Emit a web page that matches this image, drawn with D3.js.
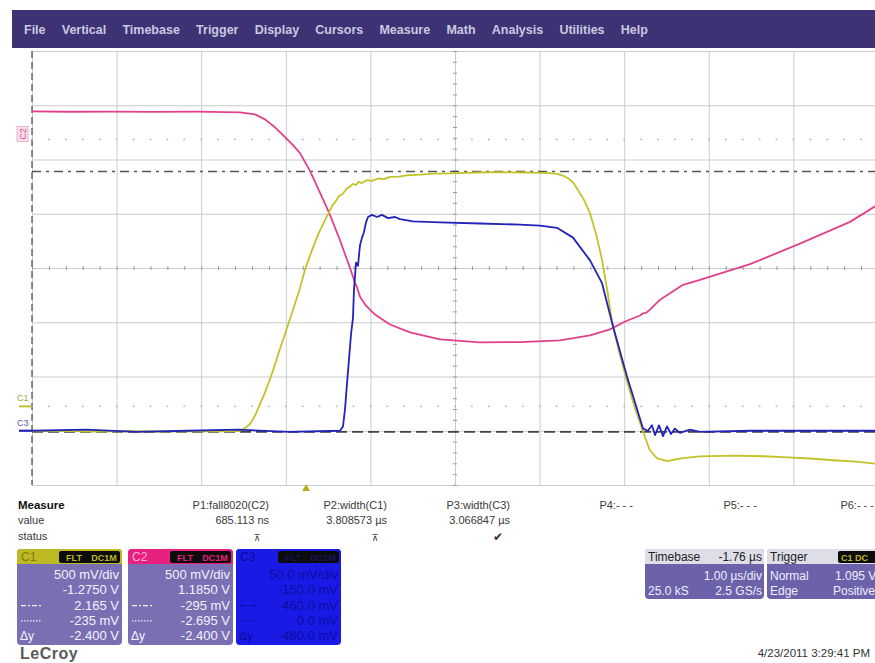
<!DOCTYPE html>
<html>
<head>
<meta charset="utf-8">
<script src="https://cdn.jsdelivr.net/npm/d3@7"></script>
<style>
  body { margin: 0; background: #fff; }
  svg { display: block; font-family: "Liberation Sans", Arial, sans-serif; }
</style>
</head>
<body>
<svg id="scope" width="875" height="663"></svg>
<script>
// ---- acquisition settings ----
const menuLabels = ["File", "Vertical", "Timebase", "Trigger", "Display", "Cursors", "Measure", "Math", "Analysis", "Utilities", "Help"];
const timePerDiv = 1.0;          // µs/div
const triggerDelay = -1.76;      // µs
const channelNames = ["C1", "C2", "C3"];
const voltsPerDiv = [0.5, 0.5, 0.05];
const channelOffsets = [-1.275, 1.185, -0.15];
const channelColors = ["#c4c22a", "#e2408c", "#2323b8"];
const cursorLevelsC1 = [2.165, -0.235];   // V, on C1

// ---- traces: [time µs, volts] ----
const traceC1 = [
  [-3.24,-0.23],[-2.9,-0.227],[-2.5,-0.233],[-2.1,-0.228],[-1.7,-0.232],[-1.3,-0.228],[-1.0,-0.231],[-0.85,-0.229],
  [-0.78,-0.225],[-0.72,-0.20],[-0.66,-0.16],[-0.60,-0.08],[-0.545,0.02],[-0.49,0.12],[-0.427,0.25],[-0.37,0.38],
  [-0.309,0.53],[-0.23,0.71],[-0.155,0.89],[-0.08,1.07],[-0.013,1.26],[0.07,1.44],[0.14,1.58],[0.20,1.68],
  [0.271,1.79],[0.31,1.85],[0.35,1.89],[0.39,1.94],[0.43,1.955],[0.483,2.01],[0.52,2.025],[0.55,2.05],
  [0.59,2.04],[0.62,2.07],[0.66,2.058],[0.72,2.085],[0.78,2.078],[0.85,2.10],[0.92,2.094],[0.99,2.115],
  [1.1,2.118],[1.2,2.13],[1.35,2.136],[1.5,2.145],[1.7,2.148],[2.0,2.155],[2.3,2.158],[2.6,2.155],
  [2.77,2.152],[2.88,2.15],[2.97,2.143],[3.04,2.125],[3.1,2.10],[3.16,2.06],[3.2,2.01],[3.28,1.91],
  [3.356,1.78],[3.43,1.58],[3.498,1.35],[3.56,1.07],[3.616,0.78],[3.70,0.50],[3.793,0.23],[3.88,0.0],
  [3.982,-0.23],[4.06,-0.40],[4.148,-0.48],[4.27,-0.505],[4.36,-0.49],[4.455,-0.478],[4.656,-0.462],
  [5.046,-0.455],[5.4,-0.46],[5.637,-0.469],[6.0,-0.483],[6.228,-0.497],[6.5,-0.51],[6.76,-0.53]
];
const traceC2 = [
  [-3.24,0.258],[-2.8,0.255],[-2.3,0.257],[-1.8,0.254],[-1.3,0.256],[-0.95,0.252],[-0.781,0.249],[-0.604,0.231],
  [-0.486,0.185],[-0.368,0.112],[-0.249,0.021],[-0.155,-0.053],[-0.072,-0.126],[0.046,-0.29],[0.164,-0.491],
  [0.271,-0.674],[0.401,-0.929],[0.519,-1.185],[0.56,-1.28],[0.578,-1.322],[0.60,-1.36],[0.637,-1.45],
  [0.708,-1.532],[0.814,-1.614],[0.992,-1.706],[1.228,-1.779],[1.583,-1.843],[2.056,-1.870],[2.528,-1.868],
  [3.001,-1.852],[3.356,-1.806],[3.592,-1.751],[3.77,-1.678],[3.947,-1.623],[3.99,-1.60],[4.02,-1.598],
  [4.065,-1.569],[4.184,-1.477],[4.455,-1.340],[4.656,-1.295],[5.247,-1.15],[5.837,-0.96],[6.429,-0.76],[6.76,-0.60]
];
const traceC3 = [
  [-3.24,0.0],[-2.6,0.001],[-2.0,-0.001],[-1.4,0.0],[-0.8,0.001],[-0.2,-0.001],[0.401,0.0],[0.436,0.004],
  [0.46,0.02],[0.483,0.043],[0.507,0.066],[0.531,0.089],[0.554,0.104],[0.566,0.13],[0.59,0.155],[0.613,0.152],
  [0.637,0.171],[0.661,0.178],[0.684,0.183],[0.708,0.192],[0.732,0.197],[0.779,0.199],[0.838,0.197],[0.897,0.199],
  [0.968,0.196],[1.051,0.197],[1.11,0.195],[1.263,0.193],[1.583,0.192],[2.056,0.191],[2.528,0.19],[2.765,0.189],
  [2.966,0.187],[3.155,0.178],[3.356,0.157],[3.498,0.136],[3.628,0.096],[3.793,0.05],[3.982,0.002],[4.041,0.0],
  [4.088,0.005],[4.124,-0.004],[4.171,0.005],[4.219,-0.005],[4.266,0.004],[4.313,-0.003],[4.36,0.002],
  [4.419,-0.002],[4.537,0.001],[4.656,-0.001],[5.247,0.0],[5.837,0.0],[6.76,0.0]
];

// ---- measurement and info panels ----
const measureNames = ["P1:fall8020(C2)", "P2:width(C1)", "P3:width(C3)", "P4:- - -", "P5:- - -", "P6:- - -"];
const measureValues = ["685.113 ns", "3.808573 µs", "3.066847 µs", "", "", ""];
const measureStatus = ["⊼", "⊼", "✔", "", "", ""];
const channelRows = [
  ["500 mV/div", "-1.2750 V", "2.165 V", "-235 mV", "-2.400 V"],
  ["500 mV/div", "1.1850 V", "-295 mV", "-2.695 V", "-2.400 V"],
  ["50.0 mV/div", "-150.0 mV", "-460.0 mV", "0.0 mV", "-460.0 mV"]
];
const timebaseRows = ["-1.76 µs", "1.00 µs/div", "25.0 kS", "2.5 GS/s"];
const triggerRows = ["C1 DC", "Normal", "1.095 V", "Edge", "Positive"];
const timestamp = "4/23/2011 3:29:41 PM";

// ---- layout ----
const svg = d3.select("#scope");
const gx0 = 32, gx1 = 878, gy0 = 51, gy1 = 485;
const timeStart = -5 * timePerDiv - triggerDelay;
const x = d3.scaleLinear().domain([timeStart, timeStart + 10 * timePerDiv]).range([gx0, gx1]);
const yDiv = d3.scaleLinear().domain([-4, 4]).range([gy1, gy0]);
const chanY = channelNames.map((_, i) =>
  d3.scaleLinear().domain([-4 * voltsPerDiv[i] - channelOffsets[i], 4 * voltsPerDiv[i] - channelOffsets[i]]).range([gy1, gy0]));

svg.append("rect").attr("width", 875).attr("height", 663).attr("fill", "#fff");

// menu bar
svg.append("rect").attr("x", 12).attr("y", 10).attr("width", 870).attr("height", 38).attr("fill", "#3d3273");
let mx = 24;
menuLabels.forEach(m => {
  const t = svg.append("text").attr("x", mx).attr("y", 34).attr("fill", "#c9c9e2")
    .attr("font-size", 12.5).attr("font-weight", "bold").text(m);
  mx += t.node().getComputedTextLength() + 16.2;
});

// grid
const divTimes = d3.range(11).map(i => timeStart + i * timePerDiv);
const gridX = d3.axisBottom(x).tickValues(divTimes).tickSize(gy1 - gy0).tickFormat("");
svg.append("g").attr("transform", `translate(0,${gy0})`).call(gridX)
  .call(g => g.select(".domain").remove())
  .call(g => g.selectAll("line").attr("stroke", "#cbcbcb"));
const gridY = d3.axisRight(yDiv).tickValues(d3.range(-4, 5)).tickSize(gx1 - gx0).tickFormat("");
svg.append("g").attr("transform", `translate(${gx0},0)`).call(gridY)
  .call(g => g.select(".domain").remove())
  .call(g => g.selectAll("line").attr("stroke", "#cbcbcb"));

// minor ticks on centre lines
const minorTimes = d3.range(51).map(i => timeStart + i * timePerDiv / 5);
const minorDivs = d3.range(41).map(i => -4 + i / 5);
svg.append("g").attr("transform", `translate(0,${yDiv(0) - 2})`)
  .call(d3.axisBottom(x).tickValues(minorTimes).tickSize(4).tickFormat(""))
  .call(g => g.select(".domain").remove())
  .call(g => g.selectAll("line").attr("stroke", "#9a9a9a"));
svg.append("g").attr("transform", `translate(${x(timeStart + 5 * timePerDiv) - 2},0)`)
  .call(d3.axisRight(yDiv).tickValues(minorDivs).tickSize(4).tickFormat(""))
  .call(g => g.select(".domain").remove())
  .call(g => g.selectAll("line").attr("stroke", "#9a9a9a"));
// left edge
svg.append("line").attr("x1", gx0).attr("x2", gx0).attr("y1", gy0).attr("y2", gy1)
  .attr("stroke", "#555").attr("stroke-width", 1.3).attr("stroke-dasharray", "7,4");

// channel ground-level dotted rows (C1, C2)
[1, 0].forEach(i => {
  const yy = chanY[i](0);
  svg.append("g").selectAll("rect").data(minorTimes).join("rect")
    .attr("x", d => x(d) - 0.8).attr("y", yy - 0.8).attr("width", 1.6).attr("height", 1.6)
    .attr("fill", "#b5b5b5");
});

// cursors
svg.append("line").attr("x1", gx0).attr("x2", gx1)
  .attr("y1", chanY[0](cursorLevelsC1[0])).attr("y2", chanY[0](cursorLevelsC1[0]))
  .attr("stroke", "#555").attr("stroke-width", 1.6).attr("stroke-dasharray", "9,5,3,5");
svg.append("line").attr("x1", gx0).attr("x2", gx1)
  .attr("y1", chanY[0](cursorLevelsC1[1])).attr("y2", chanY[0](cursorLevelsC1[1]))
  .attr("stroke", "#444").attr("stroke-width", 1.6).attr("stroke-dasharray", "11,5");

// traces
svg.append("clipPath").attr("id", "gridClip").append("rect")
  .attr("x", gx0).attr("y", gy0).attr("width", gx1 - gx0).attr("height", gy1 - gy0);
const plot = svg.append("g").attr("clip-path", "url(#gridClip)");
[traceC2, traceC1, traceC3].forEach((tr, k) => {
  const i = [1, 0, 2][k];
  const line = d3.line().x(d => x(d[0])).y(d => chanY[i](d[1]));
  plot.append("path").datum(tr).attr("d", line).attr("fill", "none")
    .attr("stroke", channelColors[i]).attr("stroke-width", 1.8).attr("stroke-linejoin", "round");
});

// channel markers on left
const yC2 = chanY[1](0);
svg.append("g").attr("transform", `translate(23,${yC2 - 7}) rotate(-90)`)
  .call(g => g.append("rect").attr("x", -9).attr("y", -6).attr("width", 15).attr("height", 11)
    .attr("fill", "#fbe3ee").attr("stroke", "#e8a0c0").attr("stroke-width", 0.8))
  .call(g => g.append("text").attr("x", -1.5).attr("y", 3).attr("text-anchor", "middle")
    .attr("font-size", 9).attr("fill", channelColors[1]).text(channelNames[1]));
const yC1 = chanY[0](0);
svg.append("text").attr("x", 17).attr("y", yC1 - 5).attr("font-size", 9).attr("fill", "#a8a640").text(channelNames[0]);
svg.append("line").attr("x1", 19).attr("x2", 31).attr("y1", yC1).attr("y2", yC1).attr("stroke", channelColors[0]).attr("stroke-width", 2);
const yC3 = chanY[2](0);
svg.append("text").attr("x", 17).attr("y", yC3 - 5).attr("font-size", 9).attr("fill", "#5858c8").text(channelNames[2]);
svg.append("line").attr("x1", 19).attr("x2", gx0).attr("y1", yC3).attr("y2", yC3).attr("stroke", channelColors[2]).attr("stroke-width", 2.2);

// trigger position marker
const tx = x(0);
svg.append("path").attr("d", `M${tx - 4},${gy1 + 6} L${tx + 4},${gy1 + 6} L${tx},${gy1 - 1} Z`).attr("fill", "#b8b020");

// measurement table
const tcol = "#3a3a3a";
svg.append("text").attr("x", 18).attr("y", 509).attr("font-size", 11.5).attr("font-weight", "bold").attr("fill", "#111").text("Measure");
svg.append("text").attr("x", 18).attr("y", 524).attr("font-size", 11).attr("fill", tcol).text("value");
svg.append("text").attr("x", 18).attr("y", 540).attr("font-size", 11).attr("fill", tcol).text("status");
const colRight = [269, 387, 510, 633, 757, 874];
measureNames.forEach((n, i) => {
  svg.append("text").attr("x", colRight[i]).attr("y", 509).attr("text-anchor", "end").attr("font-size", 11).attr("fill", tcol).text(n);
  if (measureValues[i]) svg.append("text").attr("x", colRight[i]).attr("y", 524).attr("text-anchor", "end").attr("font-size", 11).attr("fill", tcol).text(measureValues[i]);
  if (measureStatus[i]) svg.append("text").attr("x", colRight[i] - 12).attr("y", 541).attr("text-anchor", "middle")
    .attr("font-size", measureStatus[i] === "✔" ? 12 : 9).attr("fill", "#333").attr("font-family", "DejaVu Sans").text(measureStatus[i]);
});

// channel info boxes
const boxX = [17, 128, 236];
const headerColors = ["#bdb923", "#e8207f", "#1a1ae6"];
const headerText = ["#7d7a12", "#f7b0d0", "#0b0b9c"];
const bodyColors = ["#7a6fb3", "#7a6fb3", "#1a1ae6"];
const bodyText = ["#f2f2ff", "#f2f2ff", "#0c0c9e"];
channelNames.forEach((c, i) => {
  const bx = boxX[i], bw = 105, by = 549, bh = 96;
  const g = svg.append("g");
  g.append("rect").attr("x", bx).attr("y", by).attr("width", bw).attr("height", bh).attr("rx", 4).attr("fill", bodyColors[i]);
  g.append("path").attr("d", `M${bx},${by + 15} V${by + 4} Q${bx},${by} ${bx + 4},${by} H${bx + bw - 4} Q${bx + bw},${by} ${bx + bw},${by + 4} V${by + 15} Z`).attr("fill", headerColors[i]);
  g.append("text").attr("x", bx + 4).attr("y", by + 12).attr("font-size", 12).attr("fill", headerText[i]).text(c);
  g.append("rect").attr("x", bx + bw - 63).attr("y", by + 2).attr("width", 61).attr("height", 12).attr("rx", 2).attr("fill", "#0c0c0c");
  g.append("text").attr("x", bx + bw - 48).attr("y", by + 11.5).attr("text-anchor", "middle").attr("font-size", 9)
    .attr("font-weight", "bold").attr("fill", i === 2 ? "#151560" : headerColors[i]).text("FLT");
  g.append("text").attr("x", bx + bw - 18).attr("y", by + 11.5).attr("text-anchor", "middle").attr("font-size", 9)
    .attr("font-weight", "bold").attr("fill", i === 2 ? "#151560" : headerColors[i]).text("DC1M");
  channelRows[i].forEach((r, j) => {
    g.append("text").attr("x", bx + bw - 3).attr("y", by + 30 + j * 15.3).attr("text-anchor", "end")
      .attr("font-size", 13).attr("fill", bodyText[i]).text(r);
  });
  const ly = [by + 30 + 2 * 15.3 - 4, by + 30 + 3 * 15.3 - 4];
  g.append("line").attr("x1", bx + 4).attr("x2", bx + 24).attr("y1", ly[0]).attr("y2", ly[0])
    .attr("stroke", bodyText[i]).attr("stroke-width", 1.2).attr("stroke-dasharray", "5,2,2,2");
  g.append("line").attr("x1", bx + 4).attr("x2", bx + 24).attr("y1", ly[1]).attr("y2", ly[1])
    .attr("stroke", bodyText[i]).attr("stroke-width", 1.2).attr("stroke-dasharray", "1.5,1.5");
  g.append("text").attr("x", bx + 3).attr("y", by + 30 + 4 * 15.3).attr("font-size", 12).attr("fill", bodyText[i]).text("Δy");
});

// timebase box
{
  const bx = 645, bw = 119, by = 549, bh = 50;
  svg.append("rect").attr("x", bx).attr("y", by).attr("width", bw).attr("height", bh).attr("rx", 4).attr("fill", "#6c62aa");
  svg.append("path").attr("d", `M${bx},${by + 15} V${by + 4} Q${bx},${by} ${bx + 4},${by} H${bx + bw - 4} Q${bx + bw},${by} ${bx + bw},${by + 4} V${by + 15} Z`).attr("fill", "#dedee8");
  svg.append("text").attr("x", bx + 3).attr("y", by + 12).attr("font-size", 12).attr("fill", "#222").text("Timebase");
  svg.append("text").attr("x", bx + bw - 2).attr("y", by + 12).attr("text-anchor", "end").attr("font-size", 12).attr("fill", "#222").text(timebaseRows[0]);
  svg.append("text").attr("x", bx + bw - 2).attr("y", by + 31).attr("text-anchor", "end").attr("font-size", 12).attr("fill", "#eeeeff").text(timebaseRows[1]);
  svg.append("text").attr("x", bx + 3).attr("y", by + 46).attr("font-size", 12).attr("fill", "#eeeeff").text(timebaseRows[2]);
  svg.append("text").attr("x", bx + bw - 2).attr("y", by + 46).attr("text-anchor", "end").attr("font-size", 12).attr("fill", "#eeeeff").text(timebaseRows[3]);
}
// trigger box
{
  const bx = 767, bw = 120, by = 549, bh = 50;
  svg.append("rect").attr("x", bx).attr("y", by).attr("width", bw).attr("height", bh).attr("rx", 4).attr("fill", "#6c62aa");
  svg.append("path").attr("d", `M${bx},${by + 15} V${by + 4} Q${bx},${by} ${bx + 4},${by} H${bx + bw - 4} Q${bx + bw},${by} ${bx + bw},${by + 4} V${by + 15} Z`).attr("fill", "#dedee8");
  svg.append("text").attr("x", bx + 3).attr("y", by + 12).attr("font-size", 12).attr("fill", "#222").text("Trigger");
  svg.append("rect").attr("x", 838).attr("y", by + 2).attr("width", 45).attr("height", 12).attr("rx", 2).attr("fill", "#0c0c0c");
  svg.append("text").attr("x", 841).attr("y", by + 11.5).attr("font-size", 9).attr("font-weight", "bold").attr("fill", "#bdb923").text(triggerRows[0]);
  svg.append("text").attr("x", bx + 3).attr("y", by + 31).attr("font-size", 12).attr("fill", "#eeeeff").text(triggerRows[1]);
  svg.append("text").attr("x", 835).attr("y", by + 31).attr("font-size", 12).attr("fill", "#eeeeff").text(triggerRows[2]);
  svg.append("text").attr("x", bx + 3).attr("y", by + 46).attr("font-size", 12).attr("fill", "#eeeeff").text(triggerRows[3]);
  svg.append("text").attr("x", 833).attr("y", by + 46).attr("font-size", 12).attr("fill", "#eeeeff").text(triggerRows[4]);
}

// footer
svg.append("text").attr("x", 20).attr("y", 659).attr("font-size", 16).attr("font-weight", "bold")
  .attr("fill", "#5a5a5a").attr("letter-spacing", 0.5).text("LeCroy");
svg.append("text").attr("x", 870).attr("y", 657).attr("text-anchor", "end").attr("font-size", 11.5).attr("fill", "#333").text(timestamp);
</script>
</body>
</html>
